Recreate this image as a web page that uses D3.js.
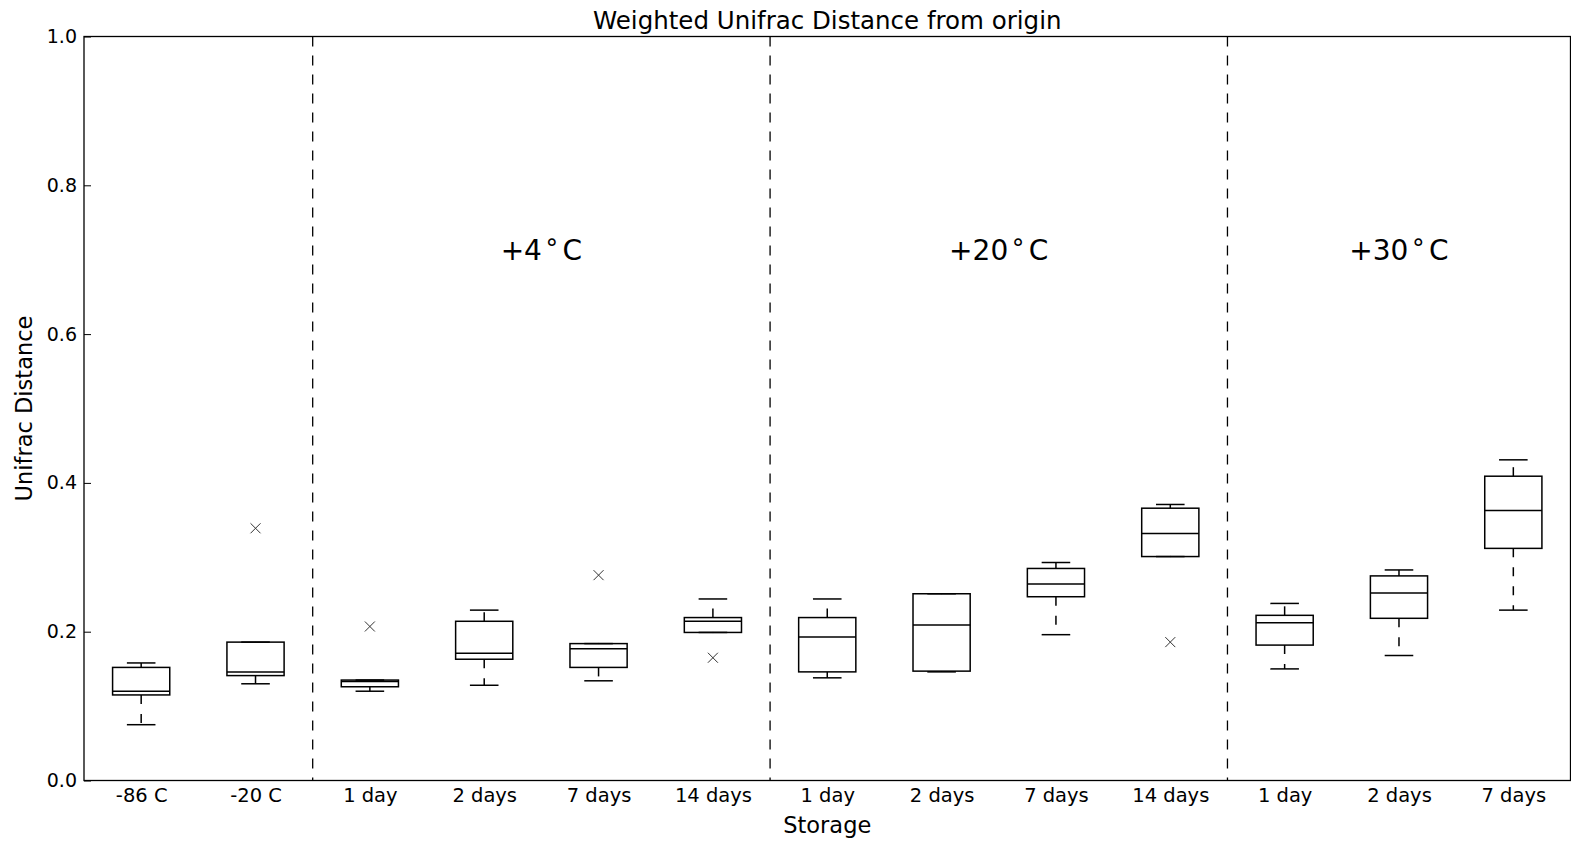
<!DOCTYPE html>
<html>
<head>
<meta charset="utf-8">
<script src="https://cdn.jsdelivr.net/npm/d3@7"></script>
<style>
  body { margin: 0; background: #fff; }
  text { font-family: "DejaVu Sans", sans-serif; fill: #000; }
</style>
</head>
<body>
<svg></svg>
<script>
const width = 1571;
const height = 841;

// storage conditions (x axis)
const labels = ["-86 C", "-20 C", "1 day", "2 days", "7 days", "14 days",
                "1 day", "2 days", "7 days", "14 days", "1 day", "2 days", "7 days"];
// box statistics
const whiskLo = [0.075, 0.130, 0.120, 0.128, 0.134, 0.199, 0.138, 0.146, 0.196, 0.301, 0.150, 0.168, 0.229];
const q1      = [0.115, 0.141, 0.126, 0.163, 0.152, 0.199, 0.146, 0.147, 0.247, 0.301, 0.182, 0.218, 0.312];
const median  = [0.120, 0.146, 0.133, 0.171, 0.177, 0.214, 0.193, 0.209, 0.264, 0.332, 0.212, 0.252, 0.363];
const q3      = [0.152, 0.186, 0.135, 0.214, 0.184, 0.219, 0.219, 0.251, 0.285, 0.366, 0.222, 0.275, 0.409];
const whiskHi = [0.158, 0.186, 0.135, 0.229, 0.184, 0.244, 0.244, 0.251, 0.293, 0.371, 0.238, 0.283, 0.431];
// outliers as [position, value]
const outliers = [[2, 0.339], [3, 0.207], [5, 0.276], [6, 0.165], [10, 0.186]];

// group separators and temperature labels
const separators = [2.5, 6.5, 10.5];
const groupLabels = [{pos: 4.5, text: "+4"}, {pos: 8.5, text: "+20"}, {pos: 12, text: "+30"}];
const yTicks = [0.0, 0.2, 0.4, 0.6, 0.8, 1.0];

const svg = d3.select("svg")
    .attr("width", width)
    .attr("height", height);

const plotLeft = 84, plotRight = 1570.5, plotTop = 36.5, plotBottom = 780.5;

const x = d3.scaleLinear().domain([0.5, labels.length + 0.5]).range([plotLeft, plotRight]);
const y = d3.scaleLinear().domain([0, 1]).range([plotBottom, plotTop]);

const boxW = (x(1) - x(0)) * 0.5;
const capW = (x(1) - x(0)) * 0.25;

const boxes = labels.map((l, i) => ({
    pos: i + 1, lo: whiskLo[i], q1: q1[i], med: median[i], q3: q3[i], hi: whiskHi[i]
}));

// y axis, ticks inward
svg.append("g")
    .attr("transform", `translate(${plotLeft},0)`)
    .call(d3.axisLeft(y).tickValues(yTicks).tickFormat(d3.format(".1f")).tickSizeInner(-7).tickSizeOuter(0).tickPadding(7))
    .call(g => g.select(".domain").remove())
    .call(g => g.selectAll("text").style("font-size", "19px").style("font-family", "DejaVu Sans"));

// x axis labels
svg.append("g")
    .attr("transform", `translate(0,${plotBottom})`)
    .call(d3.axisBottom(x).tickValues(d3.range(1, labels.length + 1)).tickFormat(d => labels[d - 1]).tickSize(0).tickPadding(8))
    .call(g => g.select(".domain").remove())
    .call(g => g.selectAll("text").style("font-size", "19.5px").style("font-family", "DejaVu Sans"));

// separators
svg.selectAll(".sep")
    .data(separators)
    .enter().append("line")
    .attr("class", "sep")
    .attr("x1", d => x(d)).attr("x2", d => x(d))
    .attr("y1", plotTop).attr("y2", plotBottom)
    .attr("stroke", "#000")
    .attr("stroke-width", 1.3)
    .attr("stroke-dasharray", "10,9");

// boxes
const box = svg.selectAll(".box")
    .data(boxes)
    .enter().append("g")
    .attr("class", "box");

box.append("line")
    .attr("x1", d => x(d.pos)).attr("x2", d => x(d.pos))
    .attr("y1", d => y(d.q3)).attr("y2", d => y(d.hi))
    .attr("stroke", "#000").attr("stroke-width", 1.5).attr("stroke-dasharray", "9,10");

box.append("line")
    .attr("x1", d => x(d.pos)).attr("x2", d => x(d.pos))
    .attr("y1", d => y(d.q1)).attr("y2", d => y(d.lo))
    .attr("stroke", "#000").attr("stroke-width", 1.5).attr("stroke-dasharray", "9,10");

box.append("line")
    .attr("x1", d => x(d.pos) - capW / 2).attr("x2", d => x(d.pos) + capW / 2)
    .attr("y1", d => y(d.hi)).attr("y2", d => y(d.hi))
    .attr("stroke", "#000").attr("stroke-width", 1.5);

box.append("line")
    .attr("x1", d => x(d.pos) - capW / 2).attr("x2", d => x(d.pos) + capW / 2)
    .attr("y1", d => y(d.lo)).attr("y2", d => y(d.lo))
    .attr("stroke", "#000").attr("stroke-width", 1.5);

box.append("rect")
    .attr("x", d => x(d.pos) - boxW / 2)
    .attr("y", d => y(d.q3))
    .attr("width", boxW)
    .attr("height", d => y(d.q1) - y(d.q3))
    .attr("fill", "none")
    .attr("stroke", "#000").attr("stroke-width", 1.5);

box.append("line")
    .attr("x1", d => x(d.pos) - boxW / 2).attr("x2", d => x(d.pos) + boxW / 2)
    .attr("y1", d => y(d.med)).attr("y2", d => y(d.med))
    .attr("stroke", "#000").attr("stroke-width", 1.5);

// outliers as x markers
const flier = svg.selectAll(".flier")
    .data(outliers)
    .enter().append("g")
    .attr("class", "flier")
    .attr("transform", d => `translate(${x(d[0])},${y(d[1])})`);

flier.append("path")
    .attr("d", "M-5,-5L5,5M-5,5L5,-5")
    .attr("stroke", "#333")
    .attr("stroke-width", 1);

// group labels with superscript degree
const gl = svg.selectAll(".glabel")
    .data(groupLabels)
    .enter().append("text")
    .attr("class", "glabel")
    .attr("x", d => x(d.pos))
    .attr("y", y(0.7))
    .attr("text-anchor", "middle")
    .style("font-size", "28px");

gl.append("tspan").text(d => d.text);
gl.append("tspan").attr("dx", 2).attr("dy", -10).style("font-size", "25px").text("\u2218");
gl.append("tspan").attr("dx", 3).attr("dy", 10).text("C");

// frame
svg.append("rect")
    .attr("x", plotLeft).attr("y", plotTop)
    .attr("width", plotRight - plotLeft).attr("height", plotBottom - plotTop)
    .attr("fill", "none")
    .attr("stroke", "#000")
    .attr("stroke-width", 1.3);

// title and axis labels
svg.append("text")
    .attr("x", (plotLeft + plotRight) / 2)
    .attr("y", 28.5)
    .attr("text-anchor", "middle")
    .style("font-size", "24.5px")
    .text("Weighted Unifrac Distance from origin");

svg.append("text")
    .attr("x", (plotLeft + plotRight) / 2)
    .attr("y", 833)
    .attr("text-anchor", "middle")
    .style("font-size", "22.5px")
    .text("Storage");

svg.append("text")
    .attr("transform", `translate(32,${(plotTop + plotBottom) / 2}) rotate(-90)`)
    .attr("text-anchor", "middle")
    .style("font-size", "22.5px")
    .text("Unifrac Distance");
</script>
</body>
</html>
